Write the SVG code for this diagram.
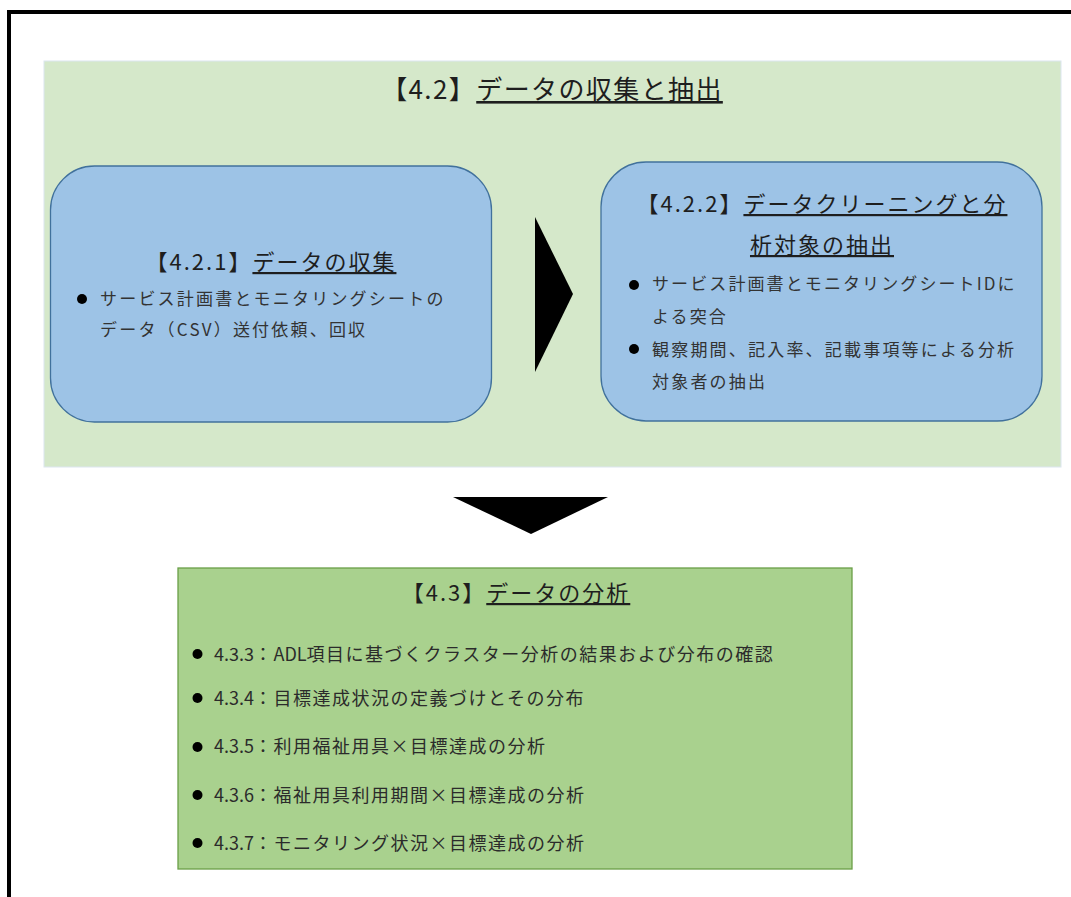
<svg xmlns="http://www.w3.org/2000/svg" width="1071" height="897" viewBox="0 0 1071 897">
<style>
text{font-family:"Noto Sans CJK JP","Noto Sans",sans-serif;fill:#2b2b2b}
.t{font-size:26px;letter-spacing:1.4px;fill:#1e1e1e}
.h{font-size:22px;letter-spacing:2px;fill:#1e1e1e}
.b{font-size:17px;letter-spacing:2.2px;fill:#333}
.c{font-size:18px;letter-spacing:1.5px}
.n{letter-spacing:0}
.u{text-decoration:underline}
.box{fill:#9DC3E6;stroke:#41719C;stroke-width:1.3}
.dot{fill:#000}
.arrow{fill:#000}
</style>
<g id="frame">
<rect x="9" y="12" width="1120" height="960" fill="none" stroke="#000" stroke-width="4"/>
</g>
<g id="panel-4-2">
<rect x="44" y="61" width="1017" height="406" fill="#D5E8CA" stroke="#DCE6F0" stroke-width="1"/>
<text class="t" x="552" y="99" text-anchor="middle">【4.2】<tspan class="u">データの収集と抽出</tspan></text>
</g>
<g id="node-4-2-1">
<rect class="box" x="50.5" y="166" width="441" height="256" rx="44" ry="44"/>
<text class="h" x="271" y="270" text-anchor="middle">【4.2.1】<tspan class="u">データの収集</tspan></text>
<circle class="dot" cx="82" cy="299" r="5"/>
<text class="b" x="100" y="305">サービス計画書とモニタリングシートの</text>
<text class="b" x="100" y="336">データ（CSV）送付依頼、回収</text>
</g>
<g id="node-4-2-2">
<rect class="box" x="601" y="162" width="441" height="259" rx="45" ry="45"/>
<text class="h" x="822" y="212" text-anchor="middle">【4.2.2】<tspan class="u">データクリーニングと分</tspan></text>
<text class="h" x="822" y="253" text-anchor="middle"><tspan class="u">析対象の抽出</tspan></text>
<circle class="dot" cx="634" cy="285" r="5"/>
<text class="b" x="652" y="290" style="letter-spacing:2.1px">サービス計画書とモニタリングシートIDに</text>
<text class="b" x="652" y="323" style="letter-spacing:2.1px">よる突合</text>
<circle class="dot" cx="634" cy="349" r="5"/>
<text class="b" x="652" y="356" style="letter-spacing:2.2px">観察期間、記入率、記載事項等による分析</text>
<text class="b" x="652" y="388" style="letter-spacing:2.2px">対象者の抽出</text>
</g>
<g id="connectors">
<polygon class="arrow" points="535,217 573,294 535,372"/>
<polygon class="arrow" points="453,497 608,497 531,534"/>
</g>
<g id="node-4-3">
<rect x="178" y="568" width="674" height="301" fill="#A9D18E" stroke="#6A9F48" stroke-width="1.3"/>
<text class="h" x="516" y="601" text-anchor="middle">【4.3】<tspan class="u">データの分析</tspan></text>
<circle class="dot" cx="197.5" cy="654" r="5"/>
<text class="c" x="214" y="661"><tspan class="n">4.3.3</tspan>：<tspan class="n">ADL</tspan>項目に基づくクラスター分析の結果および分布の確認</text>
<circle class="dot" cx="197.5" cy="698" r="5"/>
<text class="c" x="214" y="705"><tspan class="n">4.3.4</tspan>：目標達成状況の定義づけとその分布</text>
<circle class="dot" cx="197.5" cy="747" r="5"/>
<text class="c" x="214" y="753"><tspan class="n">4.3.5</tspan>：利用福祉用具×目標達成の分析</text>
<circle class="dot" cx="197.5" cy="795" r="5"/>
<text class="c" x="214" y="802"><tspan class="n">4.3.6</tspan>：福祉用具利用期間×目標達成の分析</text>
<circle class="dot" cx="197.5" cy="843" r="5"/>
<text class="c" x="214" y="850"><tspan class="n">4.3.7</tspan>：モニタリング状況×目標達成の分析</text>
</g>
</svg>
